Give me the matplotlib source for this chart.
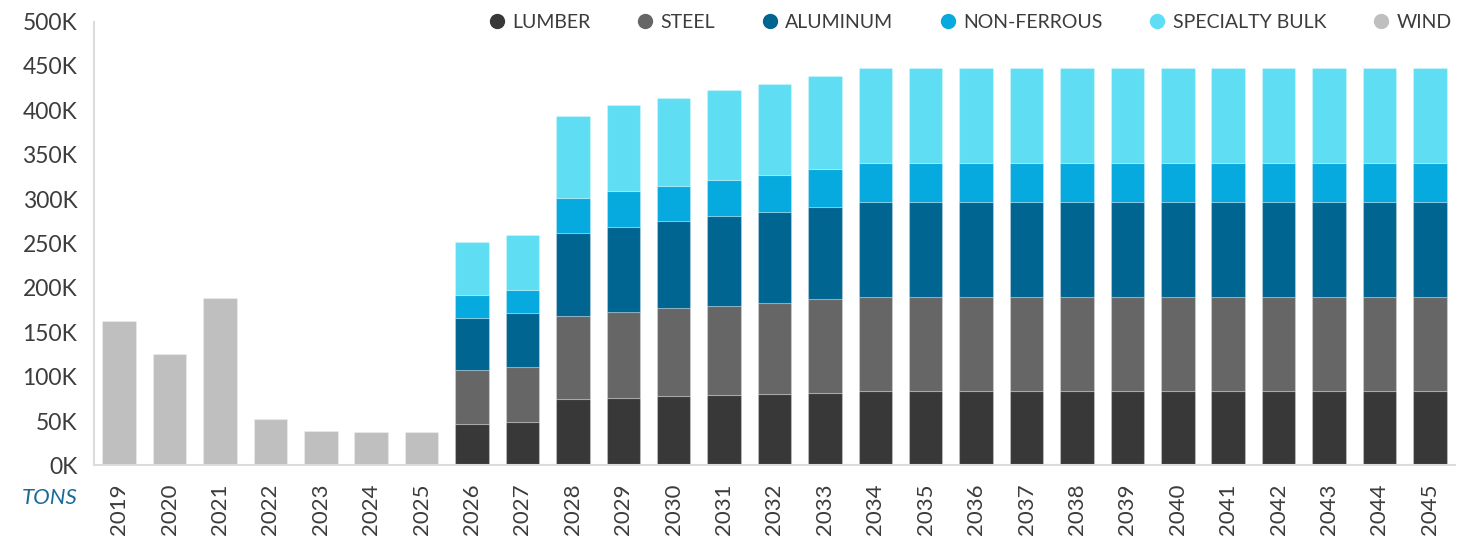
import numpy as np
import matplotlib
matplotlib.use("Agg")
import matplotlib.pyplot as plt
from matplotlib.lines import Line2D
from matplotlib.ticker import FuncFormatter, MultipleLocator

plt.rcParams['font.family'] = ['Lato', 'DejaVu Sans']

# ------------------------------------------------------------------
# data (thousand tons)
years = list(range(2019, 2046))
n_fixed = 12  # 2034-2045 flat

wind = [163, 126, 189, 52, 39, 38, 38] + [0] * 20
lumber = [0] * 7 + [47, 49, 75, 76, 78, 79, 81, 82] + [84] * n_fixed
steel = [0] * 7 + [60, 62, 93, 97, 99, 101, 102, 105] + [106] * n_fixed
aluminum = [0] * 7 + [59, 61, 94, 96, 98, 101, 102, 104] + [107] * n_fixed
non_ferrous = [0] * 7 + [26, 26, 39, 40, 40, 41, 42, 43] + [44] * n_fixed
specialty = [0] * 7 + [60, 62, 93, 97, 99, 101, 103, 105] + [107] * n_fixed

series = [
    ("LUMBER", lumber, "#383838"),
    ("STEEL", steel, "#666666"),
    ("ALUMINUM", aluminum, "#016591"),
    ("NON-FERROUS", non_ferrous, "#06aadf"),
    ("SPECIALTY BULK", specialty, "#5fdef3"),
    ("WIND", wind, "#bfbfbf"),
]

# ------------------------------------------------------------------
fig = plt.figure(figsize=(14.66, 5.40), dpi=100)
ax = fig.add_axes([0.0641, 0.138, 0.9284, 0.822])

x = np.arange(len(years))
bottom = np.zeros(len(years))
handles = []
for name, vals, color in series:
    vals = np.array(vals, dtype=float)
    m = vals > 0
    ax.bar(x[m], vals[m], bottom=bottom[m], width=0.665, color=color,
           edgecolor=(1, 1, 1, 0.25), linewidth=0.8)
    bottom += vals
    handles.append(Line2D([], [], marker='o', ls='none', markersize=10,
                          markerfacecolor=color, markeredgecolor=color, label=name))

ax.set_xlim(-0.5, len(years) - 0.5)
ax.set_ylim(0, 500)
ax.yaxis.set_major_locator(MultipleLocator(50))
ax.yaxis.set_major_formatter(FuncFormatter(lambda v, p: f"{v:.0f}K"))
ax.set_xticks(x)
ax.set_xticklabels([str(y) for y in years], rotation=90)

ax.tick_params(axis='y', length=0, pad=12, labelsize=16.5, labelcolor='#3c3c3c')
ax.tick_params(axis='x', length=0, pad=13, labelsize=16, labelcolor='#3c3c3c')
for s in ['top', 'right']:
    ax.spines[s].set_visible(False)
for s in ['left', 'bottom']:
    ax.spines[s].set_color('#dcdcdc')
    ax.spines[s].set_linewidth(1.5)

fig.text(0.0528, 0.078, "TONS", ha='right', va='center', fontsize=16,
         style='italic', color='#1a6a9a')

ax.legend(handles=handles, loc='center right', bbox_to_anchor=(0.990, 0.959),
          bbox_transform=fig.transFigure, ncol=6, frameon=False, fontsize=14,
          handletextpad=0.3, columnspacing=2.3, handlelength=1.0,
          borderpad=0, borderaxespad=0, labelcolor='#3c3c3c')

fig.savefig("out.png", dpi=100)
